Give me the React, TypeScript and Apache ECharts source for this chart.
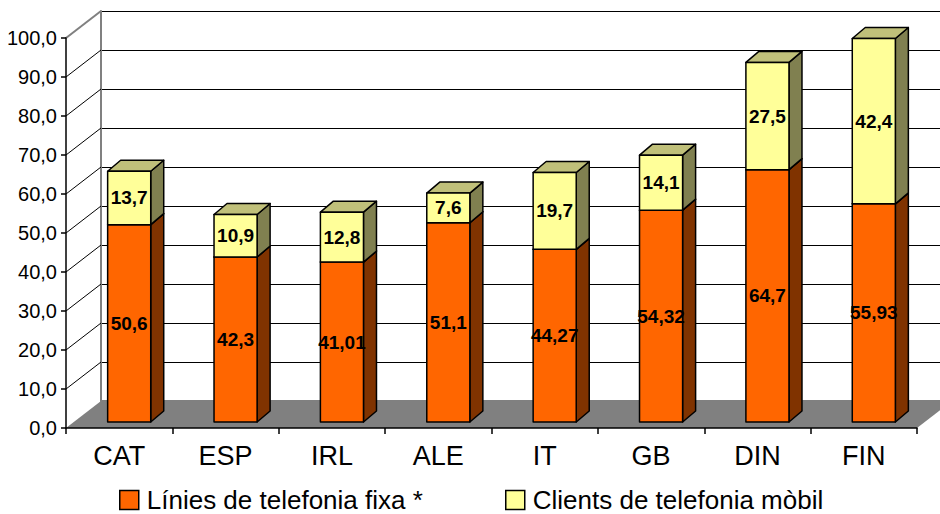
import React, { useEffect, useRef } from 'react';
import * as echarts from 'echarts';

const categories = ['CAT', 'ESP', 'IRL', 'ALE', 'IT', 'GB', 'DIN', 'FIN'];
const fixedLines = [50.6, 42.3, 41.01, 51.1, 44.27, 54.32, 64.7, 55.93];
const mobileClients = [13.7, 10.9, 12.8, 7.6, 19.7, 14.1, 27.5, 42.4];
const seriesNames = ['Línies de telefonia fixa *', 'Clients de telefonia mòbil'];
const yTicks = [10, 20, 30, 40, 50, 60, 70, 80, 90, 100];

const FONT = '"Liberation Sans", Arial, Helvetica, sans-serif';
const DEPTH = [35, -27];
const BAR_SHIFT = [10, -6];
const BAR_DEPTH = [13, -11];
const BAR_W = 0.405;

const fmt = (v: number) => String(v).replace('.', ',');

function makeBarRender(front: string, side: string, top: string) {
  return (params: any, api: any) => {
    const i = api.value(0);
    const base = api.value(1);
    const val = api.value(2);
    const pb = api.coord([i, base]);
    const pt = api.coord([i, base + val]);
    const bw = api.size([1, 0])[0] * BAR_W;
    const x0 = pb[0] + BAR_SHIFT[0] - bw / 2;
    const x1 = x0 + bw;
    const yb = pb[1] + BAR_SHIFT[1];
    const yt = pt[1] + BAR_SHIFT[1];
    const dx = BAR_DEPTH[0];
    const dy = BAR_DEPTH[1];
    const stroke = { stroke: '#000', lineWidth: 1.5, lineJoin: 'round' };
    return {
      type: 'group',
      children: [
        {
          type: 'polygon',
          shape: { points: [[x1, yb], [x1 + dx, yb + dy], [x1 + dx, yt + dy], [x1, yt]] },
          style: { fill: side, ...stroke },
        },
        {
          type: 'polygon',
          shape: { points: [[x0, yt], [x1, yt], [x1 + dx, yt + dy], [x0 + dx, yt + dy]] },
          style: { fill: top, ...stroke },
        },
        {
          type: 'rect',
          shape: { x: x0, y: yt, width: bw, height: yb - yt },
          style: { fill: front, ...stroke },
        },
        {
          type: 'text',
          style: {
            text: fmt(val),
            x: (x0 + x1) / 2,
            y: (yt + yb) / 2,
            align: 'center',
            verticalAlign: 'middle',
            fill: '#000',
            font: `bold 19px ${FONT}`,
          },
        },
      ],
    };
  };
}

function wallsRender(params: any, api: any) {
  const cs = params.coordSys;
  const left = cs.x;
  const right = cs.x + cs.width;
  const bottom = cs.y + cs.height;
  const [dx, dy] = DEPTH;
  const children: any[] = [
    {
      type: 'polygon',
      shape: { points: [[left, bottom], [right, bottom], [right + dx, bottom + dy], [left + dx, bottom + dy]] },
      style: { fill: '#808080' },
    },
  ];
  yTicks.forEach((t) => {
    const y = api.coord([0, t])[1];
    children.push({
      type: 'line',
      shape: { x1: left, y1: y, x2: left + dx, y2: y + dy },
      style: { stroke: t === 100 ? '#808080' : '#000', lineWidth: t === 100 ? 2 : 1 },
    });
  });
  return { type: 'group', children };
}

export default function App() {
  const ref = useRef<HTMLDivElement>(null);
  useEffect(() => {
    document.body.style.margin = '0';
    const chart = echarts.init(ref.current!, null, { renderer: 'svg' });
    const stackData1 = categories.map((_, i) => [i, 0, fixedLines[i]]);
    const stackData2 = categories.map((_, i) => [i, fixedLines[i], mobileClients[i]]);
    const legendBase = {
      itemWidth: 19,
      itemHeight: 19,
      icon: 'rect',
      padding: 0,
      itemStyle: { borderColor: '#000', borderWidth: 1.5 },
      textStyle: { fontSize: 26, lineHeight: 22, color: '#000', fontFamily: FONT, padding: [0, 0, 0, 3] },
    };
    chart.setOption({
      animation: false,
      backgroundColor: '#fff',
      textStyle: { fontFamily: FONT },
      grid: [
        { left: 66, top: 38, width: 851, height: 390 },
        { left: 101, top: 11, width: 851, height: 390 },
      ],
      xAxis: [
        {
          type: 'category',
          gridIndex: 0,
          data: categories,
          axisLine: { lineStyle: { color: '#000', width: 1.5 } },
          axisTick: { show: true, length: 6, lineStyle: { color: '#000', width: 1.5 } },
          axisLabel: { color: '#000', fontSize: 27, margin: 14, fontFamily: FONT },
          splitLine: { show: false },
        },
        {
          type: 'value',
          gridIndex: 1,
          position: 'top',
          min: 0,
          max: 1,
          z: -2,
          axisLine: { show: true, lineStyle: { color: '#808080', width: 2 } },
          axisTick: { show: false },
          axisLabel: { show: false },
          splitLine: { show: false },
        },
      ],
      yAxis: [
        {
          type: 'value',
          gridIndex: 0,
          min: 0,
          max: 100,
          interval: 10,
          axisLine: { show: true, lineStyle: { color: '#000', width: 1.5 } },
          axisTick: { show: true, length: 5, lineStyle: { color: '#000', width: 1.5 } },
          axisLabel: {
            color: '#000',
            fontSize: 20,
            margin: 9,
            fontFamily: FONT,
            formatter: (v: number) => v.toFixed(1).replace('.', ','),
          },
          splitLine: { show: false },
        },
        {
          type: 'value',
          gridIndex: 1,
          min: 0,
          max: 100,
          interval: 10,
          z: -2,
          axisLine: { show: true, lineStyle: { color: '#808080', width: 2 } },
          axisTick: { show: false },
          axisLabel: { show: false },
          splitLine: { show: true, lineStyle: { color: '#000', width: 1 } },
        },
      ],
      legend: [
        { ...legendBase, data: [seriesNames[0]], left: 119, top: 487 },
        { ...legendBase, data: [seriesNames[1]], left: 505, top: 487 },
      ],
      series: [
        {
          type: 'custom',
          name: 'walls',
          xAxisIndex: 0,
          yAxisIndex: 0,
          z: -1,
          silent: true,
          data: [[0, 0]],
          renderItem: wallsRender,
        },
        {
          type: 'custom',
          name: seriesNames[0],
          xAxisIndex: 0,
          yAxisIndex: 0,
          z: 3,
          itemStyle: { color: '#FF6600' },
          encode: { x: 0, y: 2 },
          data: stackData1,
          renderItem: makeBarRender('#FF6600', '#803300', '#CC5200'),
        },
        {
          type: 'custom',
          name: seriesNames[1],
          xAxisIndex: 0,
          yAxisIndex: 0,
          z: 4,
          itemStyle: { color: '#FFFF99' },
          encode: { x: 0, y: 2 },
          data: stackData2,
          renderItem: makeBarRender('#FFFF99', '#808050', '#C0C07A'),
        },
      ],
    });
    return () => chart.dispose();
  }, []);
  return <div ref={ref} style={{ width: 940, height: 514 }} />;
}
